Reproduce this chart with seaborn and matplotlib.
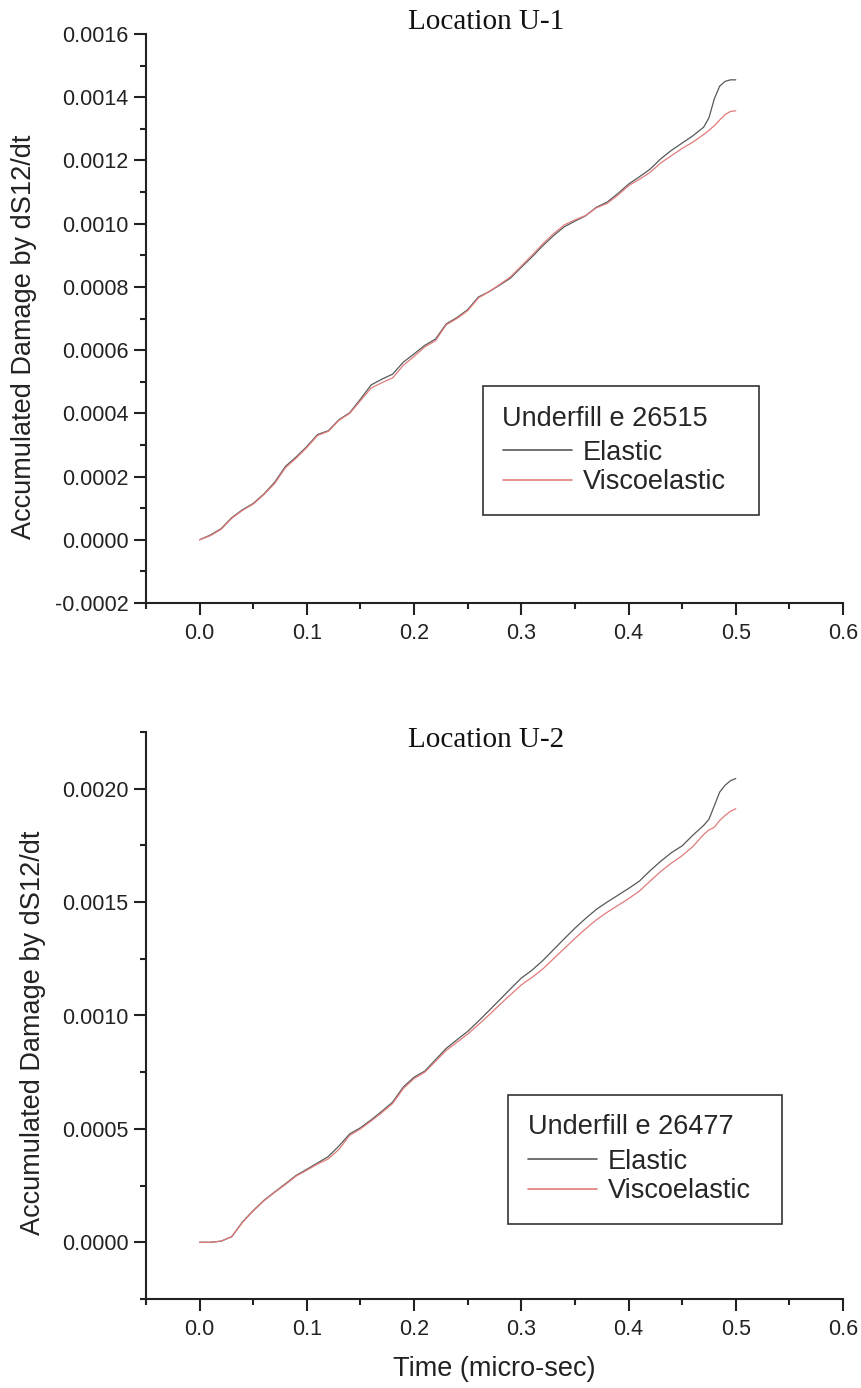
import matplotlib
matplotlib.use("Agg")
import matplotlib.pyplot as plt
from matplotlib.ticker import MultipleLocator, FormatStrFormatter
import pandas as pd
import seaborn as sns

# Time points (micro-sec), shared by both locations
time_us = [0.00, 0.01, 0.02, 0.03, 0.04, 0.05, 0.06, 0.07, 0.08, 0.09,
           0.10, 0.11, 0.12, 0.13, 0.14, 0.15, 0.16, 0.17, 0.18, 0.19,
           0.20, 0.21, 0.22, 0.23, 0.24, 0.25, 0.26, 0.27, 0.28, 0.29,
           0.30, 0.31, 0.32, 0.33, 0.34, 0.35, 0.36, 0.37, 0.38, 0.39,
           0.40, 0.41, 0.42, 0.43, 0.44, 0.45, 0.46, 0.47, 0.475, 0.48,
           0.485, 0.49, 0.495, 0.50]

# Location U-1, underfill e 26515
u1_elastic = [0.0, 0.000015, 0.000035, 0.000070, 0.000095, 0.000115, 0.000145, 0.000182, 0.000232, 0.000262,
              0.000295, 0.000333, 0.000345, 0.000380, 0.000402, 0.000445, 0.000490, 0.000508, 0.000524, 0.000562,
              0.000588, 0.000615, 0.000635, 0.000683, 0.000703, 0.000728, 0.000768, 0.000785, 0.000806, 0.000828,
              0.000862, 0.000895, 0.000930, 0.000962, 0.000990, 0.001008, 0.001025, 0.001052, 0.001068, 0.001095,
              0.001125, 0.001148, 0.001172, 0.001205, 0.001232, 0.001255, 0.001278, 0.001305, 0.001335, 0.001395,
              0.001435, 0.001450, 0.001455, 0.001455]
u1_visco = [0.0, 0.000013, 0.000033, 0.000068, 0.000093, 0.000113, 0.000143, 0.000178, 0.000228, 0.000258,
            0.000292, 0.000330, 0.000343, 0.000378, 0.000400, 0.000440, 0.000480, 0.000497, 0.000512, 0.000552,
            0.000580, 0.000610, 0.000630, 0.000680, 0.000700, 0.000725, 0.000765, 0.000785, 0.000808, 0.000832,
            0.000866, 0.000900, 0.000936, 0.000968, 0.000996, 0.001012, 0.001026, 0.001050, 0.001064, 0.001090,
            0.001120, 0.001140, 0.001162, 0.001192, 0.001215, 0.001238, 0.001258, 0.001282, 0.001295, 0.001310,
            0.001328, 0.001345, 0.001355, 0.001357]

# Location U-2, underfill e 26477
u2_elastic = [0.0, 0.000000, 0.000005, 0.000025, 0.000090, 0.000140, 0.000185, 0.000222, 0.000258, 0.000295,
              0.000322, 0.000350, 0.000378, 0.000425, 0.000478, 0.000505, 0.000540, 0.000578, 0.000618, 0.000685,
              0.000728, 0.000755, 0.000805, 0.000855, 0.000893, 0.000930, 0.000975, 0.001022, 0.001070, 0.001118,
              0.001165, 0.001200, 0.001242, 0.001290, 0.001338, 0.001385, 0.001428, 0.001468, 0.001500, 0.001530,
              0.001560, 0.001592, 0.001638, 0.001680, 0.001718, 0.001748, 0.001795, 0.001838, 0.001865, 0.001925,
              0.001985, 0.002015, 0.002035, 0.002045]
u2_visco = [0.0, 0.000000, 0.000005, 0.000025, 0.000088, 0.000138, 0.000183, 0.000220, 0.000255, 0.000292,
            0.000318, 0.000345, 0.000368, 0.000410, 0.000472, 0.000500, 0.000535, 0.000572, 0.000612, 0.000678,
            0.000722, 0.000750, 0.000798, 0.000846, 0.000882, 0.000918, 0.000960, 0.001003, 0.001048, 0.001092,
            0.001135, 0.001168, 0.001205, 0.001250, 0.001295, 0.001340, 0.001382, 0.001422, 0.001455, 0.001485,
            0.001515, 0.001548, 0.001592, 0.001635, 0.001672, 0.001705, 0.001745, 0.001798, 0.001818, 0.001830,
            0.001860, 0.001882, 0.001900, 0.001912]

models = ["Elastic", "Viscoelastic"]
palette = {"Elastic": "#545a57", "Viscoelastic": "#e27b7b"}

panels = [
    dict(title="Location U-1", legend="Underfill e 26515", elastic=u1_elastic, visco=u1_visco,
         ylim=(-0.0002, 0.0016), ymajor=0.0002, yminor=0.0001),
    dict(title="Location U-2", legend="Underfill e 26477", elastic=u2_elastic, visco=u2_visco,
         ylim=(-0.00025, 0.00225), ymajor=0.0005, yminor=0.00025),
]

sns.set_theme(style="ticks")
plt.rcParams["font.family"] = ["Liberation Sans", "DejaVu Sans"]

W, H = 861, 1388
fig = plt.figure(figsize=(W / 100, H / 100), dpi=100)

# axes boxes in pixel units: (left, top, right, bottom)
boxes = [(146, 34, 843, 603), (146, 732, 843, 1299)]
title_y = [22, 740]
ylabel_pos = [(37, 337), (46, 1033)]
# legend frames in pixel units: (left, top, width)
legend_frames = [(483, 386, 276), (508, 1095, 274)]

for i, (p, (l, t, r, b)) in enumerate(zip(panels, boxes)):
    ax = fig.add_axes([l / W, 1 - b / H, (r - l) / W, (b - t) / H])
    df = pd.DataFrame({
        "time": time_us * 2,
        "damage": p["elastic"] + p["visco"],
        "model": ["Elastic"] * len(time_us) + ["Viscoelastic"] * len(time_us),
    })
    sns.lineplot(data=df, x="time", y="damage", hue="model", hue_order=models,
                 palette=palette, linewidth=0.9, ax=ax, legend=True)

    ax.set_xlim(-0.05, 0.6)
    ax.set_ylim(*p["ylim"])
    ax.xaxis.set_major_locator(MultipleLocator(0.1))
    ax.xaxis.set_minor_locator(MultipleLocator(0.05))
    ax.xaxis.set_major_formatter(FormatStrFormatter("%.1f"))
    ax.yaxis.set_major_locator(MultipleLocator(p["ymajor"]))
    ax.yaxis.set_minor_locator(MultipleLocator(p["yminor"]))
    ax.yaxis.set_major_formatter(FormatStrFormatter("%.4f"))

    for side in ("top", "right"):
        ax.spines[side].set_visible(False)
    for side in ("left", "bottom"):
        ax.spines[side].set_linewidth(1.5)
        ax.spines[side].set_color("#222222")
    ax.tick_params(which="major", direction="out", length=8.6, width=1.5,
                   labelsize=15.5, colors="#222222")
    ax.tick_params(which="minor", direction="out", length=4.5, width=1.5, colors="#222222")
    ax.tick_params(axis="x", which="major", pad=6)
    ax.tick_params(axis="y", which="major", pad=4)

    ax.set_ylabel("Accumulated Damage by dS12/dt", fontsize=19.5, color="#222222")
    lx, ly = ylabel_pos[i]
    ax.yaxis.set_label_coords(lx / W, 1 - ly / H, transform=fig.transFigure)
    if i == 1:
        ax.set_xlabel("Time (micro-sec)", fontsize=19.5, color="#222222", labelpad=11)
    else:
        ax.set_xlabel("")

    fig.text(486 / W, 1 - title_y[i] / H, p["title"], family=["Liberation Serif", "DejaVu Serif"],
             fontsize=21, ha="center", va="center", color="#111111")

    handles, labels = ax.get_legend_handles_labels()
    fx, fy, fw = legend_frames[i]
    anchor = ((fx - l) / (r - l), 1 - (fy - t) / (b - t), fw / (r - l), 0)
    leg = ax.legend(handles, labels, title=p["legend"], loc="upper left",
                    bbox_to_anchor=anchor, mode="expand",
                    borderaxespad=0, fontsize=19.5, title_fontsize=19.5, frameon=True,
                    fancybox=False, framealpha=1, edgecolor="#333333",
                    handlelength=2.55, handletextpad=0.4, labelspacing=0.12,
                    borderpad=0.72, alignment="left")
    leg._legend_box.sep = 6
    leg.get_frame().set_linewidth(1.2)
    for h in leg.legend_handles:
        h.set_linewidth(1.2)

fig.savefig("out.png", dpi=100)
